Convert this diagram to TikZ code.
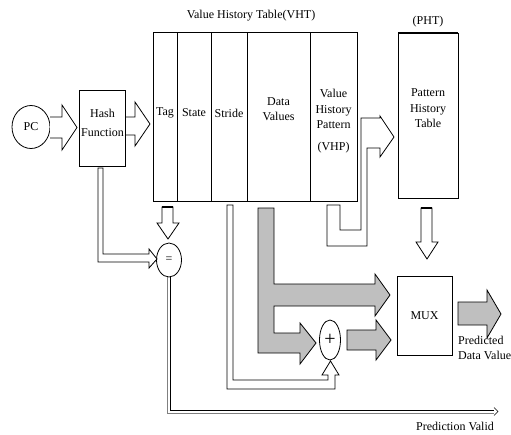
\documentclass[tikz,border=0pt]{standalone}
\usepackage{fontspec}
\setmainfont{Liberation Serif}
\usetikzlibrary{shapes.geometric, positioning}

\tikzset{
  box/.style={draw, line width=0.8pt, inner sep=0pt, outer sep=0pt},
  lbl/.style={font=\fontsize{12}{15.5}\selectfont, align=center, inner sep=0pt},
  hollow/.style={draw, fill=white, line width=0.8pt, line join=miter},
  grayarrow/.style={draw, fill=gray!50, line width=0.8pt, line join=miter},
  wire/.style={draw, line width=0.8pt},
}

\begin{document}
\begin{tikzpicture}[x=1pt,y=-1pt]
\useasboundingbox (0,0) rectangle (511,434);

% tables and boxes
\node[box, minimum width=204pt, minimum height=169pt] (vht) at (255,116.5) {};
\node[lbl] (vhttitle) at (251,16) {Value History Table(VHT)};
\foreach \cx in {177,211,247,310}
  \draw[line width=0.8pt] (\cx,0 |- vht.north) -- (\cx,0 |- vht.south);
\node[lbl] (tag) at (165,113) {Tag};
\node[lbl] (state) at (194,113) {State};
\node[lbl] (stride) at (229,113) {Stride};
\node[lbl] (data) at (278.5,109) {Data\\Values};
\node[lbl] (vhp) at (333.5,109) {Value\\History\\Pattern};
\node[lbl] (vhpname) at (333.5,148) {(VHP)};

\node[box, minimum width=60pt, minimum height=165pt] (pht) at (428,115.5) {};
\draw[line width=2pt] (pht.north west) -- (pht.north east);
\node[lbl] (phttitle) at (428,22) {(PHT)};
\node[lbl] (phttext) at (428,108.5) {Pattern\\History\\Table};

\node[box, ellipse, minimum width=38pt, minimum height=43pt] (pc) at (31,127) {};
\node[lbl] at (pc) {PC};
\node[box, minimum width=46pt, minimum height=76pt] (hash) at (102.5,128) {};
\node[lbl, font=\fontsize{12}{19}\selectfont] (hashtext) at (102.5,123) {Hash\\Function};

\node[box, ellipse, minimum width=25pt, minimum height=34pt] (eq) at (169,260) {};
\node[lbl] at (eq) {=};
\node[box, ellipse, minimum width=21pt, minimum height=40pt] (plus) at (330,340) {};
\node[lbl, font=\fontsize{20}{20}\selectfont] at (plus) {+};
\node[box, minimum width=55pt, minimum height=79pt] (mux) at (424.5,315.5) {};
\node[lbl] at (mux) {MUX};

% block arrows
\path[hollow] (50,117) -- (62,117) -- (62,105) -- (77,127.5) -- (62,150) -- (62,138) -- (50,138);
\path[hollow] (126,117) -- (135,117) -- (135,102) -- (150,124) -- (135,146) -- (135,135) -- (126,135);
\path[hollow] (162,207) -- (162,223) -- (157,223) -- (168,239) -- (179,223) -- (173,223) -- (173,207) -- cycle;
\draw[line width=2pt] (162,207) -- (173,207);
\path[hollow] (98,168) -- (98,262) -- (149,262) -- (149,268) -- (157,259) -- (149,249) -- (149,254) -- (103,254) -- (103,168) -- cycle;
\path[hollow] (227,205) -- (227,389) -- (335,389) -- (335,375) -- (339,375) -- (330.5,361) -- (322,375) -- (328,375) -- (328,380) -- (233,380) -- (233,205) -- cycle;
\path[hollow] (327,205) -- (340,205) -- (340,230) -- (361,230) -- (361,118) -- (380,118) -- (380,116) -- (394,137) -- (380,157) -- (380,148) -- (367,148) -- (367,246) -- (327,246) -- cycle;
\path[hollow] (421,208) -- (421,242) -- (416,242) -- (427,259) -- (438,242) -- (432,242) -- (432,208) -- cycle;
\draw[line width=2pt] (421,208) -- (432,208);

\path[grayarrow] (258,208) -- (274,208) -- (274,284) -- (375,284) -- (375,274) -- (390,295) -- (375,316) -- (375,306) -- (274,306) -- (274,333) -- (300,333) -- (300,323) -- (316,343) -- (300,364) -- (300,353) -- (258,353) -- cycle;
\path[grayarrow] (347,330) -- (376,330) -- (376,320) -- (391,340) -- (376,360) -- (376,350) -- (347,350) -- cycle;
\path[grayarrow] (458,302) -- (487,302) -- (487,290) -- (501,314) -- (487,338) -- (487,325) -- (458,325) -- cycle;

% prediction valid line
\draw[wire, gray] (eq.south) ++(-1.5,0) |- (494,413);
\draw[wire] (eq.south) ++(1.5,0) |- (494,410);
\draw[line width=0.6pt] (494,407.5) -- (498,411.5) -- (494,415.5);

% labels
\node[lbl, align=left, anchor=west] (pred) at (458,348) {Predicted\\Data Value};
\node[lbl] (valid) at (455,426) {Prediction Valid};
\end{tikzpicture}
\end{document}
